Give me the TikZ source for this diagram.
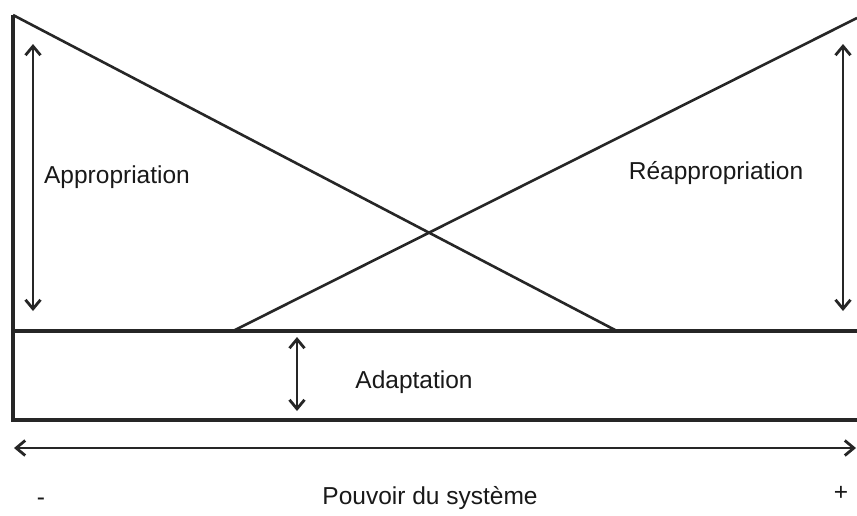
\documentclass[tikz,border=0pt]{standalone}
\usepackage{fontspec}
\setmainfont{Liberation Sans}
\usetikzlibrary{arrows.meta}
\begin{document}
\begin{tikzpicture}[x=1pt,y=-1pt,
  edge/.style={line width=3.2pt,draw=black!85},
  thin/.style={line width=2.6pt,draw=black!85},
  dbl/.style={line width=2.8pt,draw=black!85,{Straight Barb[length=9pt,width=15pt,line width=2.8pt]}-{Straight Barb[length=9pt,width=15pt,line width=2.8pt]}},
  lbl/.style={font=\fontsize{24.5}{29}\selectfont,text=black!90,inner sep=0pt}]
\useasboundingbox (0,0) rectangle (857,515);
\fill[white] (0,0) rectangle (857,515);
\coordinate (tl) at (13,15);
\coordinate (bl) at (13,420);
\coordinate (ml) at (13,331);
\coordinate (mr) at (857,331);
\coordinate (br) at (857,420);
\coordinate (xr) at (617,331);
\coordinate (xl) at (233,331);
\coordinate (tr) at (857,18);
\draw[edge] (tl) -- (bl) -- (br);
\draw[edge] (ml) -- (mr);
\draw[thin] (tl) -- (xr);
\draw[thin] (xl) -- (tr);
\coordinate (a1) at (33,44);
\coordinate (a2) at (33,311);
\draw[dbl] (a1) -- (a2);
\coordinate (b1) at (843,44);
\coordinate (b2) at (843,311);
\draw[dbl] (b1) -- (b2);
\coordinate (c1) at (297,337);
\coordinate (c2) at (297,411);
\draw[dbl] (c1) -- (c2);
\coordinate (d1) at (14,448);
\coordinate (d2) at (856,448);
\draw[dbl] (d1) -- (d2);
\node[lbl] (app) at (117,177) {Appropriation};
\node[lbl] (reapp) at (716,173) {Réappropriation};
\node[lbl] (adapt) at (414,382) {Adaptation};
\node[lbl] (pouv) at (430,498) {Pouvoir du système};
\node[lbl] (minus) at (41,502) {-};
\node[lbl] (plus) at (841,493) {+};
\end{tikzpicture}
\end{document}
